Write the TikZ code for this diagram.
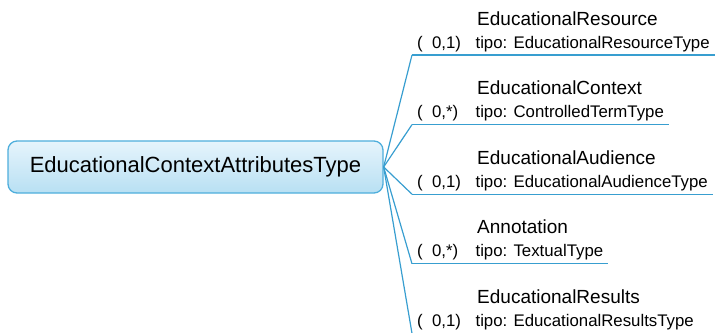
\documentclass[tikz,border=0pt]{standalone}
\usepackage{fontspec}
\setmainfont{Liberation Sans}
\usetikzlibrary{positioning}

\definecolor{branch}{RGB}{56,158,208}
\definecolor{boxtop}{RGB}{230,244,252}
\definecolor{boxbot}{RGB}{184,224,243}
\definecolor{boxline}{RGB}{78,174,220}

\begin{document}
\begin{tikzpicture}[x=1pt, y=-1pt,
		root/.style={draw=boxline, line width=1.3pt, rounded corners=9pt, top color=boxtop, bottom color=boxbot,
			minimum width=375pt, minimum height=52pt, inner sep=0pt, font=\fontsize{22}{26}\selectfont},
		attr/.style={anchor=base west, inner sep=0pt, font=\fontsize{19}{22}\selectfont},
		kind/.style={anchor=base west, inner xsep=5pt, inner ysep=3.5pt, text depth=3.5pt, outer sep=0pt,
			font=\fontsize{16.8}{19}\selectfont},
		link/.style={draw=branch, line width=1.2pt}]
	\useasboundingbox (0,0) rectangle (717,332);

	\node [root] (root) at (195.5,167) {EducationalContextAttributesType};

	\foreach \title/\card/\type [count=\i] in {
			EducationalResource/{0,1)}/EducationalResourceType,
			EducationalContext/{0,*)}/ControlledTermType,
			EducationalAudience/{0,1)}/EducationalAudienceType,
			Annotation/{0,*)}/TextualType,
			EducationalResults/{0,1)}/EducationalResultsType} {
		\node [kind] (k\i) at (412, {48+69.6*(\i-1)})
			{(\hspace{9.5pt}\makebox[28.5pt][l]{\card}\hspace{15pt}tipo: \type\hspace{4pt}};
		\node [attr] (a\i) at ([shift={(65,-23)}]k\i.base west) {\title};
		\path [link] (k\i.south west) -- (k\i.south east);
		\path [link] (root.east) -- (k\i.south west);
	}
\end{tikzpicture}
\end{document}
